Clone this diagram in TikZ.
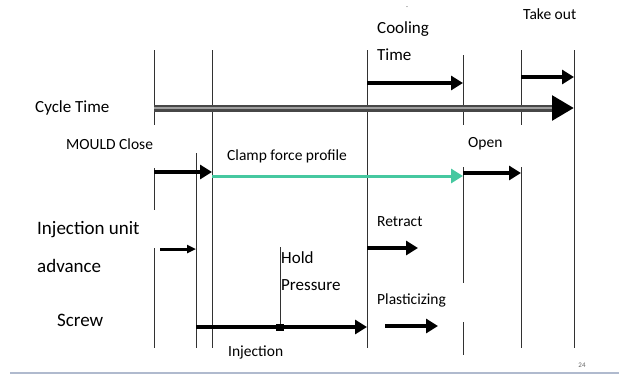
\documentclass[tikz,border=0pt]{standalone}
\usepackage{fontspec}
\setmainfont{Carlito}
\usetikzlibrary{arrows.meta}
\definecolor{teal1}{RGB}{70,200,160}
\definecolor{lineg}{RGB}{50,50,50}
\definecolor{rule1}{RGB}{176,186,206}
\begin{document}
\begin{tikzpicture}[x=1pt,y=-1pt,
  vline/.style={draw=lineg, line width=1pt},
  arr/.style={line width=3.2pt, -{Triangle[length=12pt,width=14pt]}},
  lbl/.style={anchor=west, inner sep=0pt, font=\fontsize{15.5}{16}\selectfont},
  lblbig/.style={anchor=west, inner sep=0pt, font=\fontsize{19}{20}\selectfont}]
\useasboundingbox (0,0) rectangle (619,376);
% vertical line end points
\coordinate (A1t) at (154,50);  \coordinate (A1b) at (154,125);
\coordinate (A2t) at (154,168); \coordinate (A2b) at (154,210);
\coordinate (A3t) at (154,248); \coordinate (A3b) at (154,348);
\coordinate (Bt) at (196,153);  \coordinate (Bb) at (196,348);
\coordinate (Ct) at (212,50);   \coordinate (Cb) at (212,348);
\coordinate (Dt) at (280,247);  \coordinate (Db) at (280,327);
\coordinate (Et) at (367,50);   \coordinate (Eb) at (367,348);
\coordinate (F1t) at (463,55);  \coordinate (F1b) at (463,125);
\coordinate (F2t) at (463,167); \coordinate (F2b) at (463,283);
\coordinate (F3t) at (463,322); \coordinate (F3b) at (463,355);
\coordinate (G1t) at (521,50);  \coordinate (G1b) at (521,125);
\coordinate (G2t) at (521,167); \coordinate (G2b) at (521,348);
\coordinate (Ht) at (574,50);   \coordinate (Hb) at (574,348);
\foreach \p in {A1,A2,A3,B,C,D,E,F1,F2,F3,G1,G2,H}
  \draw[vline] (\p t) -- (\p b);
% arrow end points
\coordinate (coolS) at (367,83);  \coordinate (coolE) at (463,83);
\coordinate (takeS) at (521,77);  \coordinate (takeE) at (574,77);
\coordinate (cycS) at (154,108);  \coordinate (cycE) at (574,108);
\coordinate (mouS) at (154,172);  \coordinate (mouE) at (212,172);
\coordinate (claS) at (212,176);  \coordinate (claE) at (463,176);
\coordinate (opeS) at (463,173);  \coordinate (opeE) at (521,173);
\coordinate (advS) at (160,249);  \coordinate (advE) at (196,249);
\coordinate (retS) at (367,248);  \coordinate (retE) at (418,248);
\coordinate (scrS) at (196,327);  \coordinate (scrE) at (367,327);
\coordinate (plaS) at (385,326);  \coordinate (plaE) at (438,326);
% cycle time
\draw[line width=7pt, black!72, -{Triangle[length=22pt,width=24pt,black]}] (cycS) -- (cycE);
\draw[line width=2.6pt, gray!75, shorten >=22pt] (cycS) -- (cycE);
\draw[arr] (coolS) -- (coolE);
\draw[arr] (takeS) -- (takeE);
\draw[arr] (mouS) -- (mouE);
\draw[line width=3pt, teal1, -{Triangle[length=12pt,width=14pt]}] (claS) -- (claE);
\draw[arr] (opeS) -- (opeE);
\draw[line width=3pt, -{Triangle[length=9pt,width=8pt]}] (advS) -- (advE);
\draw[arr] (retS) -- (retE);
\draw[arr] (scrS) -- (scrE);
\draw[arr] (plaS) -- (plaE);
\node[fill=black, minimum width=8pt, minimum height=7pt, inner sep=0pt] (hp) at (Db) {};
% labels
\node[lbl, font=\fontsize{17}{18}\selectfont] (tcyc) at (35,108) {Cycle Time};
\node[lbl] (tmou) at (66,144) {MOULD Close};
\node[lbl] (tcla) at (227,156) {Clamp force profile};
\node[lbl, font=\fontsize{17}{18}\selectfont] (tcoo) at (377,29) {Cooling};
\node[lbl, font=\fontsize{17}{18}\selectfont] (ttim) at (377,55) {Time};
\node[lbl] (ttak) at (523,14) {Take out};
\node[lbl] (tope) at (468,144) {Open};
\node[lblbig] (tinj) at (37,230) {Injection unit};
\node[lblbig] (tadv) at (37,266) {advance};
\node[lbl, font=\fontsize{17}{18}\selectfont] (thol) at (281,258) {Hold};
\node[lbl, font=\fontsize{17}{18}\selectfont] (tpre) at (281,285) {Pressure};
\node[lbl] (tret) at (377,222) {Retract};
\node[lbl] (tpla) at (377,300) {Plasticizing};
\node[lblbig] (tscr) at (57,320) {Screw};
\node[lbl] (tinc) at (228,352) {Injection};
\node[anchor=center, inner sep=0pt, font=\fontsize{7}{7}\selectfont\rmfamily, text=black!60] (tpg) at (582,365) {24};
\node[inner sep=0pt, font=\fontsize{8}{8}\selectfont, text=black!50] (tdot) at (407,8) {-};
% bottom rule
\coordinate (rS) at (10,373); \coordinate (rE) at (619,373);
\draw[rule1, line width=1.5pt] (rS) -- (rE);
\end{tikzpicture}
\end{document}
